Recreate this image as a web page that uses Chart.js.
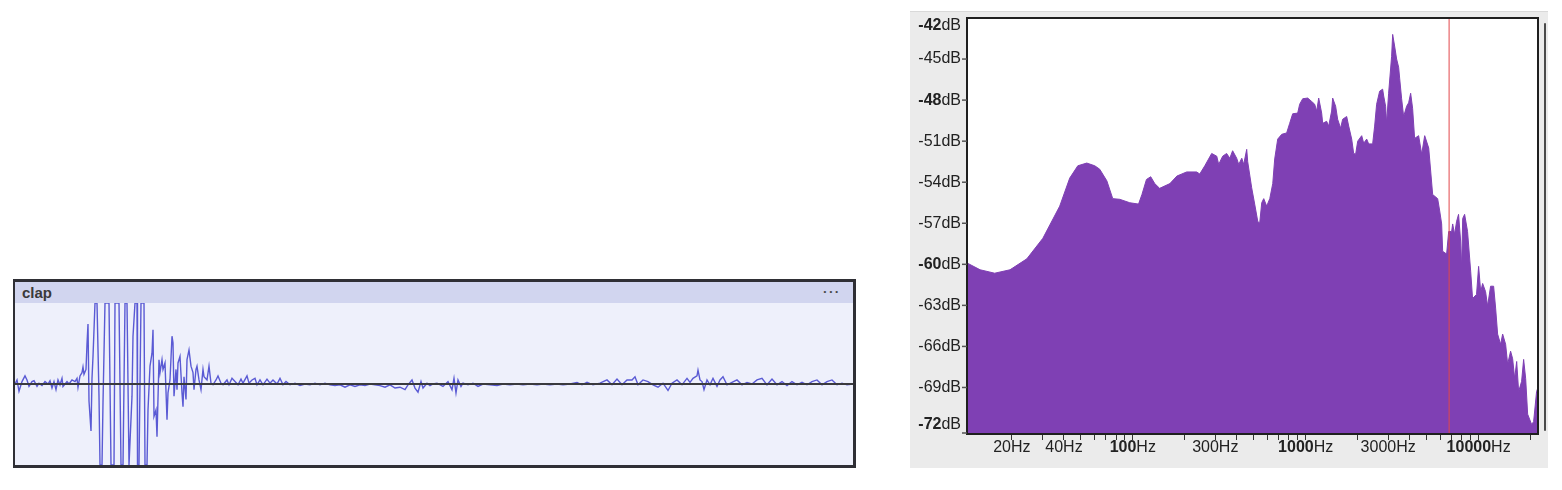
<!DOCTYPE html>
<html>
<head>
<meta charset="utf-8">
<title>clap</title>
<script src="https://cdn.jsdelivr.net/npm/chart.js@4"></script>
<style>
  body{margin:0;background:#fff;width:1562px;height:490px;overflow:hidden;position:relative;font-family:"Liberation Sans",Arial,sans-serif}
  #track{position:absolute;left:13px;top:279px;width:838px;height:183px;border:3px solid #2f2f35;border-left-width:2px;background:#eef0fb}
  #trackHead{height:21px;background:#d1d5ef;position:relative}
  #trackName{position:absolute;left:7px;top:2px;font-weight:bold;font-size:15px;color:#3a3a3a}
  #trackMenu{position:absolute;right:12px;top:5px;font-size:8px;letter-spacing:3px;color:#444}
  #spec{position:absolute;left:910px;top:11px;width:638px;height:456px;background:#ebebeb;border-top:1px solid #d9d9d9}
  canvas{display:block}
</style>
</head>
<body>

<div id="track">
  <div id="trackHead"><span id="trackName">clap</span><span id="trackMenu">&#8226;&#8226;&#8226;</span></div>
  <canvas id="wave" width="838" height="162"></canvas>
</div>

<div id="spec">
  <canvas id="specChart" width="638" height="456"></canvas>
</div>

<script>
// waveform of the clap (t = position, amp = -1..1)
var waveT = [
  15,17,19,22,25,27,29,32,34,37,
  39,42,45,48,50,52,54,56,58,60,
  62,63,67,69,72,75,77,78,80,82,
  83,84,86,87,88,89,91,92,93,95,
  97,99,100,102,103,105,109,111,114,115,
  119,121,123,125,127,129,130,132,133,135,
  137,137.5,139,141,144,145,147,148,150,152,
  153,154,156,157,159,160,162,163,165,167,
  168,170,172,173,174,176,177,178,180,182,
  183,184,186,187,189,191,193,194,196,197,
  199,201,203,204,207,209,211,213,216,218,
  221,223,227,229,232,235,238,241,243,247,
  249,252,255,257,260,263,267,270,273,277,
  280,283,286,290,295,300,305,310,315,320,
  325,330,335,340,345,350,355,360,365,370,
  375,380,385,390,395,400,405,408,412,415,
  418,421,423,427,430,433,437,443,448,452,
  454,456,458,461,463,468,473,478,483,490,
  497,503,510,517,523,530,537,543,550,557,
  563,570,577,582,587,593,600,607,612,617,
  622,627,632,635,638,643,648,653,658,663,
  668,672,677,682,687,690,693,697,698,700,
  702,704,707,710,713,717,720,723,727,732,
  737,742,747,752,757,762,767,772,777,782,
  787,792,797,802,807,812,817,822,827,832,
  837,842,847,853
];
var waveAmp = [
  0,0.05,-0.09,0.03,0.1,0.05,-0.03,0.03,0.04,-0.03,
  0.01,-0.02,0.03,0,0.04,-0.05,0.03,-0.07,0.05,-0.01,
  0.07,-0.03,0.03,0,0.05,0.03,0.07,-0.04,0.1,0.14,
  0.21,0.12,0.18,0.49,0.74,-0.21,-0.58,0.07,0.34,1,
  1,-0.15,-1,-1,-0.23,1,1,-1,-1,1,
  1,-1,-1,1,1,-1,-1,-0.15,0.59,1,
  1,-1,-1,1,1,-1,-1,-0.32,0.22,0.38,
  0.67,-0.4,-0.32,-0.65,0.3,0.14,0.3,0.18,0.26,-0.44,
  -0.11,0.05,0.59,0.51,-0.15,0.18,-0.07,0.26,0.34,-0.11,
  -0.28,0.09,-0.19,0.3,0.42,0.22,0.14,-0.07,0.18,0.22,
  0.05,-0.07,0.18,0.09,0.05,0.22,0.01,-0.01,0.05,0.1,
  0.01,-0.01,0.05,-0.01,0.07,0.03,-0.01,0.06,0.01,0.1,
  0.01,0.05,0.07,-0.01,0.05,-0.01,0.06,0.01,0.05,0,
  0.07,-0.01,0.03,-0.01,0.01,-0.02,0,-0.01,0.01,-0.01,
  0.01,-0.01,-0.02,-0.01,-0.04,-0.01,-0.03,-0.01,-0.02,0,
  -0.01,-0.02,-0.04,-0.01,-0.05,-0.04,-0.07,-0.01,0.05,-0.05,
  -0.1,0.03,-0.05,0.01,-0.02,0,0.01,-0.03,0.03,-0.07,
  0.07,-0.11,0.05,-0.03,0.01,-0.01,0.01,-0.03,0,-0.01,
  -0.02,0,-0.01,0,-0.01,0,-0.01,0,-0.01,0,
  -0.01,0,0.02,-0.01,0.02,-0.01,0.01,0.05,-0.01,0.06,
  -0.01,0.05,0.05,0.09,-0.01,0.05,0.03,-0.01,-0.04,0.01,
  -0.08,0.01,0.05,-0.01,0.07,0.02,0.07,0.1,0.17,0.05,
  0.03,-0.07,0.05,-0.01,0.07,-0.03,0.05,0.09,-0.01,0.02,
  0.05,-0.01,0.02,0,0.05,0.07,-0.01,0.06,-0.01,0.03,
  -0.02,0.03,-0.01,0.02,-0.01,0.03,0.05,-0.01,0.03,0.05,
  -0.01,0.01,-0.01,0
];

// spectrum (frequency in Hz, level in dB)
var specHz = [
  11,13.1,15.9,19.5,24.4,30.2,37.8,43.2,48.1,54.2,
  60.3,64.4,70.8,76.6,84.1,96.1,108,113,120,127,
  134,143,164,180,205,234,244,261,286,306,
  314,331,349,364,378,399,410,427,438,456,
  462,487,507,528,542,557,572,595,620,645,
  662,689,727,776,808,841,899,923,961,1027,
  1083,1127,1158,1189,1237,1254,1322,1358,1413,1432,
  1490,1530,1592,1636,1726,1773,1845,1894,1945,1999,
  2108,2165,2253,2313,2439,2505,2572,2677,2786,2825,
  2898,2938,3017,3140,3184,3268,3356,3447,3494,3587,
  3685,3835,3938,4045,4152,4265,4498,4686,4877,5145,
  5423,5796,5955,6113,6196,6531,6714,6982,7079,7261,
  7464,7656,7870,7980,8090,8299,8630,8995,9226,9727,
  10000,10280,10550,10970,11270,11730,12210,12540,12880,13400,
  13770,14330,14720,15310,15730,16160,16600,17040,17730,18210,
  18710,19210,20250,20800,21640,22050
];
var specDb = [
  -59.9,-60.4,-60.65,-60.4,-59.6,-58.1,-55.75,-53.7,-52.8,-52.6,
  -52.8,-53.05,-53.9,-55.2,-55.25,-55.5,-55.6,-54.9,-53.8,-53.6,
  -54.1,-54.45,-54.1,-53.55,-53.25,-53.25,-53.4,-52.8,-51.9,-52.1,
  -52.7,-52.1,-51.9,-52.25,-51.7,-52.25,-52.7,-52.25,-52.7,-51.6,
  -52.5,-54.4,-55.6,-56.85,-57.0,-55.5,-55.2,-55.75,-55.2,-54.1,
  -52.3,-50.85,-50.5,-50.4,-49.7,-49.0,-48.95,-48.3,-47.9,-47.85,
  -48.1,-48.3,-48.8,-47.85,-48.95,-49.7,-49.55,-49.9,-48.8,-47.85,
  -48.45,-49.4,-50.05,-49.4,-49.2,-49.9,-50.85,-51.9,-51.95,-51.0,
  -50.6,-51.15,-50.85,-51.2,-51.2,-49.9,-48.3,-47.35,-47.2,-47.7,
  -48.45,-49.7,-47.5,-44.8,-43.2,-44.05,-45.0,-45.6,-46.4,-47.9,
  -49.2,-48.45,-48.2,-47.5,-48.6,-50.8,-50.6,-51.95,-50.6,-51.5,
  -54.9,-55.2,-56.1,-57.05,-59.05,-59.25,-57.6,-57.6,-57.05,-57.8,
  -56.85,-56.35,-58.3,-60.3,-56.65,-56.35,-57.6,-60.5,-62.5,-62.2,
  -60.15,-62.0,-61.4,-62.0,-63.05,-61.6,-61.6,-63.2,-65.1,-65.85,
  -65.1,-65.85,-67.3,-66.35,-66.9,-68.35,-67.1,-69.3,-68.55,-66.95,
  -68.35,-70.95,-71.7,-71.5,-69.3,-69.0
];
var cursorHz = 6750;

var dbMin = -72.4, dbMax = -42;
var hzMin = 11, hzMax = 22050;
var dbTicks = [-42,-45,-48,-51,-54,-57,-60,-63,-66,-69,-72];
var dbBold = [-42,-48,-60,-72];
var hzTicks = [20,30,40,50,60,70,80,90,100,200,300,400,500,600,700,800,900,
  1000,2000,3000,4000,5000,6000,7000,8000,9000,10000,20000];
var hzLabels = [20,40,100,300,1000,3000,10000];
var hzBold = [100,1000,10000];

var FONT = '16px "Liberation Sans", Arial, sans-serif';
var FONT_B = 'bold 16px "Liberation Sans", Arial, sans-serif';

// waveform
var wavePts = [];
for (var i = 0; i < waveT.length; i++) wavePts.push({x: waveT[i], y: waveAmp[i]});

new Chart(document.getElementById('wave'), {
  type: 'line',
  data: {
    datasets: [{
      data: [{x: waveT[0], y: 0}, {x: waveT[waveT.length - 1], y: 0}],
      borderColor: '#3a3a3e',
      borderWidth: 2,
      pointRadius: 0,
      order: 0
    }, {
      data: wavePts,
      borderColor: '#5a5ad4',
      borderWidth: 1.4,
      pointRadius: 0,
      tension: 0,
      order: 1
    }]
  },
  options: {
    responsive: false,
    animation: false,
    events: [],
    layout: {padding: 0},
    plugins: {legend: {display: false}, tooltip: {enabled: false}},
    scales: {
      x: {type: 'linear', display: false, min: 15, max: 853},
      y: {display: false, min: -1, max: 1}
    }
  }
});

// spectrum: white plot area, frame, labels and scrollbar
var specFrame = {
  id: 'specFrame',
  beforeDraw: function(chart) {
    var a = chart.chartArea;
    chart.ctx.save();
    chart.ctx.fillStyle = '#fff';
    chart.ctx.fillRect(a.left, a.top, a.right - a.left, a.bottom - a.top);
    chart.ctx.restore();
  },
  afterDraw: function(chart) {
    var ctx = chart.ctx, a = chart.chartArea;
    var xs = chart.scales.x, ys = chart.scales.y;
    ctx.save();
    ctx.strokeStyle = '#1f1f1f';
    ctx.lineWidth = 2;
    ctx.strokeRect(a.left, a.top, a.right - a.left, a.bottom - a.top);

    ctx.fillStyle = '#222';
    ctx.textBaseline = 'middle';
    ctx.textAlign = 'right';
    ctx.lineWidth = 1.5;
    ctx.strokeStyle = '#555';
    dbTicks.forEach(function(v) {
      var y = ys.getPixelForValue(v);
      var ly = Math.min(Math.max(y, a.top + 8), a.bottom - 9);
      ctx.font = FONT;
      var uw = ctx.measureText('dB').width;
      ctx.fillText('dB', a.left - 6, ly);
      ctx.font = dbBold.indexOf(v) >= 0 ? FONT_B : FONT;
      ctx.fillText(String(v), a.left - 6 - uw, ly);
      var ty = null;
      if (v === dbTicks[dbTicks.length - 1]) ty = a.bottom - 1;
      else if (v !== dbTicks[0]) ty = y;
      if (ty !== null) {
        ctx.beginPath();
        ctx.moveTo(a.left - 5, ty);
        ctx.lineTo(a.left, ty);
        ctx.stroke();
      }
    });

    ctx.textAlign = 'left';
    hzLabels.forEach(function(v) {
      var x = xs.getPixelForValue(v);
      var fn = hzBold.indexOf(v) >= 0 ? FONT_B : FONT;
      ctx.font = fn;
      var nw = ctx.measureText(String(v)).width;
      ctx.font = FONT;
      var uw = ctx.measureText('Hz').width;
      var x0 = x - (nw + uw) / 2;
      ctx.font = fn;
      ctx.fillText(String(v), x0, a.bottom + 14);
      ctx.font = FONT;
      ctx.fillText('Hz', x0 + nw, a.bottom + 14);
    });

    ctx.strokeStyle = '#4a4a4a';
    ctx.lineWidth = 2;
    ctx.lineCap = 'round';
    ctx.beginPath();
    ctx.moveTo(a.right + 7, a.top + 6);
    ctx.lineTo(a.right + 7, a.bottom - 4);
    ctx.stroke();
    ctx.restore();
  }
};

var specPts = [];
for (var j = 0; j < specHz.length; j++) specPts.push({x: specHz[j], y: specDb[j]});

new Chart(document.getElementById('specChart'), {
  type: 'line',
  data: {
    datasets: [{
      data: [{x: cursorHz, y: dbMin}, {x: cursorHz, y: dbMax}],
      borderColor: '#e2474b',
      borderWidth: 1,
      pointRadius: 0,
      order: 0
    }, {
      data: specPts,
      borderColor: '#7f40b4',
      backgroundColor: '#7f40b4',
      borderWidth: 1,
      pointRadius: 0,
      tension: 0,
      fill: 'start',
      order: 1
    }]
  },
  options: {
    responsive: false,
    animation: false,
    events: [],
    layout: {padding: {top: 6, right: 10, left: 0, bottom: 0}},
    plugins: {legend: {display: false}, tooltip: {enabled: false}},
    scales: {
      x: {
        type: 'logarithmic',
        min: hzMin,
        max: hzMax,
        border: {display: false},
        grid: {drawOnChartArea: false, drawTicks: true, tickLength: 6, color: '#333'},
        ticks: {display: false},
        afterBuildTicks: function(scale) {
          scale.ticks = hzTicks.map(function(v) { return {value: v}; });
        },
        afterFit: function(scale) { scale.height = 34; }
      },
      y: {
        type: 'linear',
        min: dbMin,
        max: dbMax,
        border: {display: false},
        grid: {display: false},
        ticks: {display: false},
        afterFit: function(scale) { scale.width = 57; }
      }
    }
  },
  plugins: [specFrame]
});
</script>
</body>
</html>
